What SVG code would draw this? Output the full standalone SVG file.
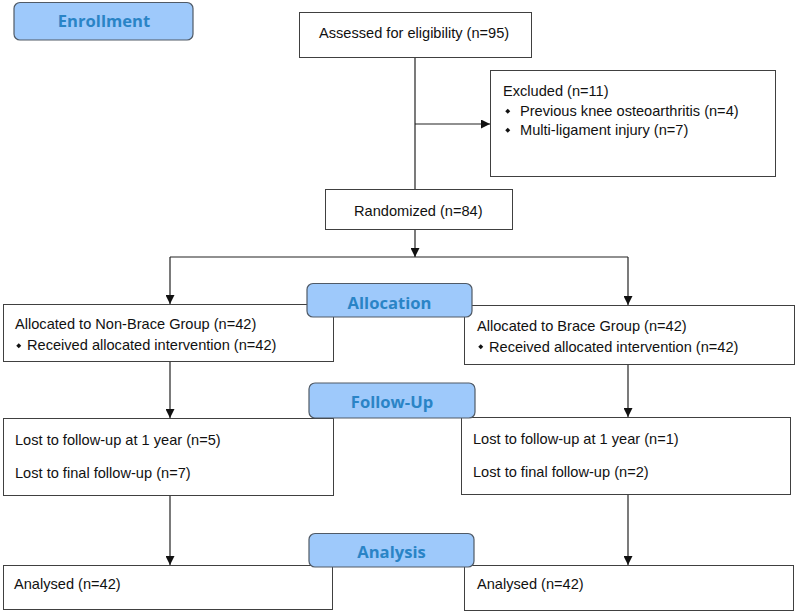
<svg xmlns="http://www.w3.org/2000/svg" width="796" height="612" viewBox="0 0 796 612">
<defs>
<style>
.box{fill:#fff;stroke:#404040;stroke-width:1}
.lab{fill:#9ec9fb;stroke:#505a66;stroke-width:1.2}
.t{font-family:"Liberation Sans",Arial,sans-serif;font-size:14.6px;fill:#111}
.lt{font-family:"Open Sans","DejaVu Sans",sans-serif;font-size:16.6px;font-weight:bold;fill:#2a84c6;text-anchor:middle}
.ln{fill:none;stroke:#222;stroke-width:1.2}
.dot{fill:#111}
</style>
<marker id="ah" viewBox="0 0 10 10" refX="10" refY="5" markerWidth="9" markerHeight="9" markerUnits="userSpaceOnUse" orient="auto">
<path d="M0,0 L10,5 L0,10 z" fill="#111"/>
</marker>
</defs>
<rect width="796" height="612" fill="#fff"/>

<g id="connectors">
<path class="ln" d="M415,57 V189"/>
<path class="ln" d="M415,124 H490" marker-end="url(#ah)"/>
<path class="ln" d="M415,229 V257" marker-end="url(#ah)"/>
<path class="ln" d="M170,257 H628"/>
<path class="ln" d="M170,257 V304" marker-end="url(#ah)"/>
<path class="ln" d="M628,257 V305" marker-end="url(#ah)"/>
<path class="ln" d="M170,361 V418" marker-end="url(#ah)"/>
<path class="ln" d="M628,365 V417" marker-end="url(#ah)"/>
<path class="ln" d="M170,496 V565" marker-end="url(#ah)"/>
<path class="ln" d="M628,495 V565" marker-end="url(#ah)"/>
</g>

<g id="assessed">
<rect class="box" x="299.5" y="12.5" width="232" height="45"/>
<text class="t" x="319" y="38">Assessed for eligibility (n=95)</text>
</g>

<g id="excluded">
<rect class="box" x="490.5" y="70.5" width="285" height="106"/>
<text class="t" x="503" y="96">Excluded (n=11)</text>
<rect class="dot" x="506" y="109.5" width="3.5" height="3.5" transform="rotate(45 507.75 111.25)"/>
<text class="t" x="520" y="116">Previous knee osteoarthritis (n=4)</text>
<rect class="dot" x="506" y="128.5" width="3.5" height="3.5" transform="rotate(45 507.75 130.25)"/>
<text class="t" x="520" y="135">Multi-ligament injury (n=7)</text>
</g>

<g id="randomized">
<rect class="box" x="325.5" y="189.5" width="187" height="40"/>
<text class="t" x="354" y="216">Randomized (n=84)</text>
</g>

<g id="alloc-left">
<rect class="box" x="3.5" y="304.5" width="330" height="57"/>
<text class="t" x="15" y="329">Allocated to Non-Brace Group (n=42)</text>
<rect class="dot" x="17" y="344" width="3.5" height="3.5" transform="rotate(45 18.75 345.75)"/>
<text class="t" x="27" y="350">Received allocated intervention (n=42)</text>
</g>

<g id="alloc-right">
<rect class="box" x="464.5" y="305.5" width="330" height="59"/>
<text class="t" x="477" y="331">Allocated to Brace Group (n=42)</text>
<rect class="dot" x="479" y="345" width="3.5" height="3.5" transform="rotate(45 480.75 346.75)"/>
<text class="t" x="489" y="352">Received allocated intervention (n=42)</text>
</g>

<g id="follow-left">
<rect class="box" x="3.5" y="418.5" width="330" height="77"/>
<text class="t" x="15" y="445">Lost to follow-up at 1 year (n=5)</text>
<text class="t" x="15" y="478">Lost to final follow-up (n=7)</text>
</g>

<g id="follow-right">
<rect class="box" x="461.5" y="417.5" width="329" height="77"/>
<text class="t" x="473" y="444">Lost to follow-up at 1 year (n=1)</text>
<text class="t" x="473" y="477">Lost to final follow-up (n=2)</text>
</g>

<g id="analysed-left">
<rect class="box" x="3.5" y="565.5" width="329" height="44"/>
<text class="t" x="14" y="589">Analysed (n=42)</text>
</g>

<g id="analysed-right">
<rect class="box" x="464.5" y="565.5" width="329" height="45"/>
<text class="t" x="477" y="589">Analysed (n=42)</text>
</g>

<g id="label-enrollment">
<rect class="lab" x="14" y="2.5" width="179" height="37.5" rx="6"/>
<text class="lt" x="104" y="27">Enrollment</text>
</g>

<g id="label-allocation">
<rect class="lab" x="307" y="283.5" width="165" height="33.5" rx="6"/>
<text class="lt" x="389.5" y="308.5">Allocation</text>
</g>

<g id="label-followup">
<rect class="lab" x="309" y="383" width="166" height="35" rx="6"/>
<text class="lt" x="392" y="407.5">Follow-Up</text>
</g>

<g id="label-analysis">
<rect class="lab" x="309" y="533.5" width="165" height="33.5" rx="6"/>
<text class="lt" x="391.5" y="558">Analysis</text>
</g>
</svg>
